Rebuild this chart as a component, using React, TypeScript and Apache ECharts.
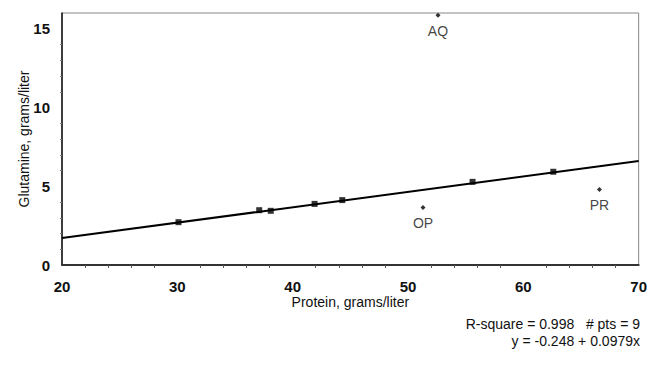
import React, { useEffect, useRef } from "react";
import * as echarts from "echarts";

const fitX: number[] = [30.1, 37.1, 38.1, 41.9, 44.3, 55.6, 62.6];
const fitY: number[] = [2.72, 3.48, 3.44, 3.88, 4.12, 5.28, 5.92];
const outlierNames: string[] = ["AQ", "OP", "PR"];
const outlierX: number[] = [52.6, 51.3, 66.6];
const outlierY: number[] = [15.85, 3.65, 4.8];
const intercept = -0.248;
const slope = 0.0979;
const lineX: number[] = [20, 70];
const xTicks: number[] = [20, 30, 40, 50, 60, 70];
const yTicks: number[] = [0, 5, 10, 15];

const FONT = "'Liberation Sans', Arial, sans-serif";

export default function App() {
  const ref = useRef<HTMLDivElement>(null);
  useEffect(() => {
    if (!ref.current) return;
    const chart = echarts.init(ref.current, undefined, { renderer: "svg" });
    chart.setOption({
      animation: false,
      backgroundColor: "#fff",
      grid: { left: 62, right: 10, top: 13, bottom: 103, show: true, borderColor: "#888", borderWidth: 1 },
      xAxis: {
        type: "value",
        min: xTicks[0],
        max: xTicks[xTicks.length - 1],
        interval: 10,
        name: "Protein, grams/liter",
        nameLocation: "middle",
        nameGap: 30,
        nameMoveOverlap: false,
        nameTextStyle: { fontFamily: FONT, fontSize: 14, color: "#111" },
        axisLine: { show: true, onZero: false, lineStyle: { color: "#333", width: 2 } },
        axisTick: { show: false },
        minorTick: { show: true, splitNumber: 5, length: 3, lineStyle: { color: "#555" } },
        splitLine: { show: false },
        axisLabel: { fontFamily: FONT, fontSize: 15, fontWeight: "bold", color: "#111", margin: 14 },
      },
      yAxis: {
        type: "value",
        min: yTicks[0],
        max: 16,
        interval: 5,
        name: "Glutamine, grams/liter",
        nameLocation: "middle",
        nameGap: 31,
        nameMoveOverlap: false,
        nameTextStyle: { fontFamily: FONT, fontSize: 14, color: "#111" },
        axisLine: { show: true, onZero: false, lineStyle: { color: "#111", width: 1.5 } },
        axisTick: { show: false },
        minorTick: { show: true, splitNumber: 5, length: 2, lineStyle: { color: "#777" } },
        splitLine: { show: false },
        axisLabel: {
          fontFamily: FONT, fontSize: 15, fontWeight: "bold", color: "#111", margin: 12,
          formatter: (v: number) => (yTicks.includes(v) ? String(v) : ""),
        },
      },
      graphic: [
        {
          type: "text", right: 10, top: 317,
          style: { text: "R-square = 0.998   # pts = 9", font: `14px ${FONT}`, fill: "#111", textAlign: "right" },
        },
        {
          type: "text", right: 10, top: 334,
          style: { text: "y = -0.248 + 0.0979x", font: `14px ${FONT}`, fill: "#111", textAlign: "right" },
        },
      ],
      series: [
        {
          type: "line",
          data: lineX.map((x) => [x, intercept + slope * x]),
          symbol: "none",
          lineStyle: { color: "#000", width: 2 },
          z: 2,
        },
        {
          type: "scatter",
          data: fitX.map((x, i) => [x, fitY[i]]),
          symbol: "rect",
          symbolSize: 6,
          itemStyle: { color: "#000" },
          z: 3,
        },
        {
          type: "scatter",
          data: outlierX.map((x, i) => ({ value: [x, outlierY[i]], name: outlierNames[i] })),
          symbol: "diamond",
          symbolSize: 5,
          itemStyle: { color: "#000" },
          label: {
            show: true,
            position: "bottom",
            distance: 6,
            formatter: (p: any) => p.name,
            fontFamily: FONT,
            fontSize: 14,
            color: "#111",
          },
          z: 3,
        },
      ],
    });
    return () => chart.dispose();
  }, []);
  return <div ref={ref} style={{ width: 650, height: 368, position: "absolute", left: 0, top: 0 }} />;
}
